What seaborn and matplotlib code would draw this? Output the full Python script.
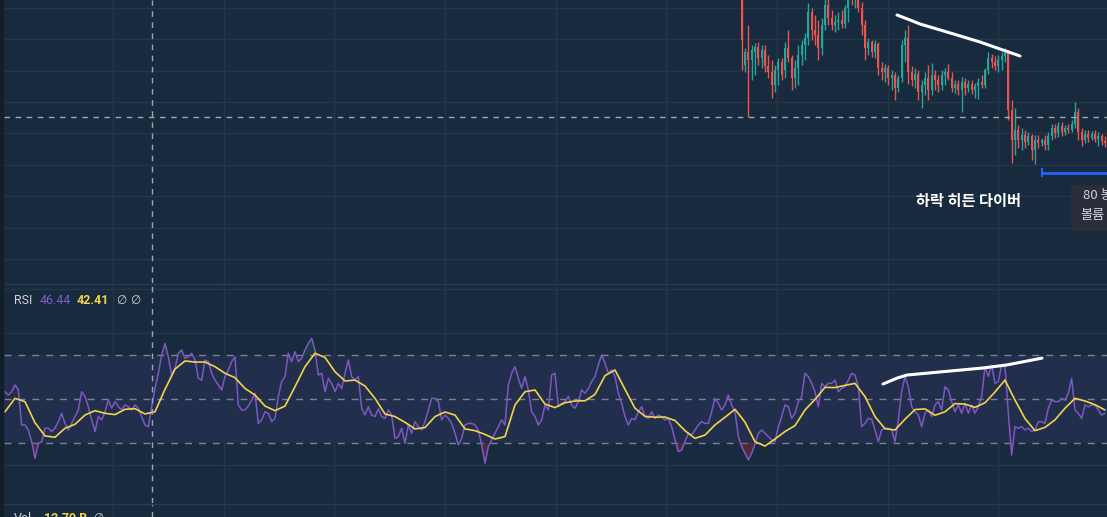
import numpy as np
import pandas as pd
import matplotlib
matplotlib.use('Agg')
import matplotlib.pyplot as plt
import seaborn as sns
from matplotlib.patches import FancyBboxPatch, Rectangle

# RSI (14), one value per bar, bar 0 = left edge of the chart
rsi_part1 = [53.3, 51.8, 53.3, 56.4, 54.1, 38.2, 38.2, 35.9, 30.6, 23.0,
             29.8, 30.6, 36.7, 36.7, 35.2, 36.7, 39.7, 43.5, 38.9, 35.9,
             38.9, 42.0, 45.0, 53.3, 51.1, 46.5, 40.5, 35.2, 42.0, 40.5,
             44.2, 49.5, 45.8, 48.8, 46.5, 45.0, 47.3, 46.5, 45.0, 47.3,
             45.8, 42.0, 38.2, 37.4, 46.5, 54.8, 61.7, 70.0, 75.3, 69.2,
             60.9, 63.9, 70.8, 72.3, 68.5, 69.2, 70.8, 67.7, 59.4, 58.6,
             67.7, 67.0, 61.7, 58.6, 56.4, 54.1, 60.2, 63.2, 67.0, 69.2,
             47.3, 45.0, 45.0, 46.8, 49.5, 52.6, 38.9, 40.5, 44.2, 43.5,
             39.7, 41.2, 51.1, 57.9, 60.2, 70.8, 67.0, 71.5, 67.0, 68.5,
             72.3, 75.3, 77.6, 72.3, 60.9, 61.7, 53.3, 59.4, 57.1, 53.3,
             57.1, 54.8, 61.7, 67.7, 60.2, 58.6, 60.2, 45.8, 42.7, 46.5]
rsi_part2 = [42.7, 42.0, 45.5, 42.0, 41.2, 45.0, 42.7, 32.1, 32.9, 36.7,
             29.8, 38.2, 34.4, 39.7, 37.4, 35.9, 39.7, 45.0, 50.3, 50.3,
             48.8, 40.5, 42.7, 41.2, 38.9, 34.4, 29.1, 32.1, 38.2, 38.9,
             38.9, 38.2, 35.9, 29.1, 20.8, 28.3, 31.4, 34.4, 37.4, 40.5,
             38.2, 56.4, 61.7, 64.7, 59.4, 54.8, 60.2, 54.1, 44.2, 42.0,
             38.2, 40.5, 47.3, 45.0, 60.9, 61.7, 46.5, 48.0, 48.8, 51.1,
             47.3, 45.8, 48.8, 54.1, 52.6, 54.8, 57.9, 60.2, 65.5, 70.0,
             66.2, 61.7, 63.2, 60.2, 52.6, 48.0, 42.0, 38.2, 41.2, 40.5,
             44.2, 46.5, 42.0, 41.2, 44.2, 41.2, 42.7, 42.0, 40.5, 41.2,
             37.4, 31.4, 26.1, 26.8, 30.6, 34.4, 33.6, 35.9, 38.2, 39.7,
             38.9, 38.9, 44.2, 50.3, 48.0, 45.0, 47.3, 51.8, 47.3, 44.2,
             32.9]
rsi_part3 = [28.3, 25.3, 22.3, 25.3, 29.5, 34.4, 35.9, 34.4, 32.9, 31.4,
             30.6, 37.4, 42.0, 47.3, 46.5, 41.2, 43.5, 48.8, 51.1, 61.7,
             60.2, 57.1, 53.3, 46.5, 57.1, 55.6, 57.1, 57.1, 58.6, 53.3,
             54.8, 55.6, 58.6, 61.7, 60.9, 55.6, 37.4, 38.9, 41.2, 40.8,
             35.9, 30.6, 35.9, 36.7, 36.7, 35.9, 30.6, 40.5, 53.3, 60.2,
             55.6, 46.5, 44.2, 42.7, 37.4, 43.5, 45.0, 42.0, 47.3, 48.8,
             45.0, 55.6, 54.1, 48.8, 44.2, 47.3, 43.5, 48.0, 43.5, 47.3,
             43.5, 46.5, 51.1, 64.7, 60.2, 65.5, 57.1, 57.9, 65.5, 64.7,
             43.5, 24.5, 37.4, 36.7, 37.4, 35.9, 36.7, 35.2, 35.9, 39.7,
             39.7, 38.9, 45.8, 49.5, 48.8, 48.8, 50.3, 49.5, 52.6, 59.4,
             45.0, 43.5, 41.2, 47.3, 46.5, 47.3, 47.3, 45.0, 42.7, 43.5]
rsi = rsi_part1 + rsi_part2 + rsi_part3

# RSI-based moving average, read every 3rd bar
ma_step = 3
rsi_ma = [44.2, 50.3, 48.8, 39.2, 33.2, 32.6, 36.7, 38.5, 42.7, 44.7,
          43.5, 42.9, 45.3, 45.6, 43.2, 44.2, 54.4, 63.6, 67.3, 66.8,
          66.8, 64.7, 61.7, 59.7, 54.8, 51.8, 46.8, 44.7, 46.8, 55.6,
          64.7, 70.8, 68.9, 62.4, 58.2, 58.6, 55.9,
          50.3, 43.2, 42.0, 39.4, 36.4, 37.0, 42.0, 44.1, 42.7, 36.4,
          35.6, 33.9, 31.8, 32.9, 47.3, 53.3, 54.1, 47.7, 46.1, 48.3,
          49.1, 49.2, 52.1, 60.6, 63.2, 54.4, 45.8, 42.1, 41.7, 41.8,
          40.2, 35.6, 32.1, 33.6, 38.2, 41.7, 45.3,
          39.5, 30.6, 28.6, 31.8, 35.2, 37.9, 45.0, 49.8, 55.3, 55.2,
          56.2, 57.1, 51.1, 42.0, 36.5, 35.9, 40.8, 45.2, 45.5, 42.6,
          44.2, 47.9, 47.7, 46.2, 48.3, 53.2, 58.6, 49.5, 41.1, 35.6,
          37.1, 40.5, 45.8, 50.3, 49.1, 47.4, 45.0]

# candles: only bars from 221 on reach into the visible price range
candle_start = 221
opens = [70000, 69350, 69480, 69400, 69480, 69530, 69420, 69500, 69340, 69280,
         69150, 69300, 69380, 69300, 69520, 69420, 69220, 69320, 69450, 69550,
         69620, 69880, 69700, 69650, 69520, 69750, 69950, 69820, 69750, 69780,
         69800, 69760, 69920, 70050, 70000, 70030, 69920, 69750, 69520, 69580,
         69480, 69560, 69320, 69280, 69320, 69220, 69250, 69120, 69220, 69550,
         69620, 69280, 69200, 69260, 69080, 69150, 69220, 69100, 69250, 69200,
         69150, 69250, 69280, 69220, 69120, 69160, 69100, 69180, 69120, 69160,
         69100, 69140, 69180, 69150, 69300, 69420, 69380, 69340, 69400, 69440,
         69470, 68900, 68600, 68700, 68600, 68650, 68580, 68640, 68500, 68600,
         68570, 68600, 68550, 68640, 68720, 68670, 68740, 68680, 68720, 68700,
         68760, 68880, 68680, 68600, 68660, 68620, 68660, 68610, 68640, 68590]
highs = [70200, 69520, 69750, 69550, 69570, 69580, 69550, 69550, 69450, 69400,
         69350, 69420, 69420, 69580, 69700, 69450, 69400, 69550, 69600, 69670,
         69970, 69920, 69850, 69800, 69820, 70100, 70050, 69900, 69850, 69880,
         69900, 69950, 70150, 70200, 70100, 70120, 69980, 69800, 69620, 69600,
         69600, 69580, 69380, 69360, 69350, 69300, 69280, 69250, 69600, 69700,
         69750, 69340, 69320, 69300, 69200, 69280, 69350, 69370, 69300, 69250,
         69300, 69320, 69360, 69280, 69200, 69200, 69230, 69220, 69200, 69200,
         69170, 69220, 69250, 69320, 69480, 69460, 69440, 69450, 69480, 69520,
         69500, 69000, 68920, 68750, 68720, 68700, 68680, 68660, 68650, 68650,
         68620, 68650, 68680, 68760, 68760, 68780, 68780, 68750, 68760, 68800,
         68980, 68920, 68720, 68700, 68700, 68690, 68700, 68680, 68660, 68640]
lows = [69300, 69280, 68830, 69200, 69250, 69350, 69320, 69280, 69220, 69020,
        69080, 69150, 69200, 69220, 69380, 69100, 69120, 69150, 69350, 69400,
        69550, 69600, 69550, 69400, 69450, 69700, 69750, 69700, 69680, 69700,
        69720, 69720, 69780, 69950, 69920, 69880, 69650, 69400, 69450, 69430,
        69420, 69250, 69200, 69180, 69150, 69100, 69000, 69080, 69180, 69380,
        69160, 69140, 69120, 69000, 68920, 69050, 69000, 69050, 69100, 69080,
        69100, 69150, 69200, 69080, 69070, 69050, 68880, 69050, 69080, 69060,
        69020, 69010, 69120, 69120, 69260, 69320, 69300, 69280, 69300, 69380,
        68800, 68370, 68450, 68520, 68500, 68520, 68550, 68400, 68360, 68520,
        68540, 68500, 68500, 68600, 68620, 68630, 68640, 68650, 68670, 68680,
        68720, 68600, 68540, 68570, 68580, 68600, 68580, 68540, 68550, 68530]
closes = [69600, 69480, 69400, 69500, 69530, 69420, 69500, 69340, 69280, 69150,
          69300, 69380, 69250, 69520, 69420, 69220, 69320, 69450, 69550, 69620,
          69880, 69700, 69650, 69520, 69750, 69950, 69820, 69750, 69780, 69800,
          69760, 69920, 70050, 70000, 70030, 69920, 69750, 69520, 69580, 69480,
          69560, 69320, 69280, 69320, 69220, 69250, 69120, 69220, 69550, 69620,
          69280, 69200, 69260, 69080, 69150, 69220, 69100, 69250, 69200, 69150,
          69250, 69280, 69220, 69120, 69160, 69100, 69180, 69120, 69160, 69100,
          69140, 69180, 69150, 69300, 69420, 69380, 69340, 69400, 69440, 69470,
          68900, 68600, 68700, 68600, 68650, 68580, 68640, 68500, 68600, 68570,
          68600, 68550, 68640, 68720, 68670, 68740, 68680, 68720, 68700, 68760,
          68880, 68680, 68600, 68660, 68620, 68660, 68610, 68640, 68590, 68570]

# hand-drawn divergence lines (bar, value)
price_trend_bars = [267.6, 271.5, 274.5, 282.6, 292.5, 304.5]
price_trend_vals = [69850, 69800, 69760, 69680, 69580, 69440]
rsi_trend_bars = [263.4, 267.6, 270.6, 280.5, 293.4, 300.6, 311.1]
rsi_trend_vals = [56.8, 59.5, 60.9, 62.3, 64.1, 65.5, 68.6]

# measuring range (blue) and crosshair
range_start_bar = 311.1
range_price = 68275
cross_bar = 44.1
cross_price = 68830

BG = '#182a3d'
GRID = '#243648'
RED = '#ef5350'
TEAL = '#26a69a'
PURPLE = '#7e57c2'
YELLOW = '#f2d34c'

sns.set_theme(style='dark')
plt.rcParams['font.family'] = ['Noto Sans CJK KR', 'DejaVu Sans']

W, H = 1107, 517
fig = plt.figure(figsize=(W / 100, H / 100), dpi=100)
fig.patch.set_facecolor(BG)


def pane(top, bottom):
    ax = fig.add_axes([4 / W, 1 - bottom / H, 1 - 4 / W, (bottom - top) / H])
    ax.set_facecolor(BG)
    ax.set_xlim(-0.3, 330.6)
    ax.set_xticks([])
    ax.set_yticks([])
    for s in ax.spines.values():
        s.set_visible(False)
    for gx in np.arange(32.4, 331, 33.2):
        ax.axvline(gx, color=GRID, lw=1, zorder=0)
    ax.axvline(cross_bar, color='#a3a6af', lw=1, dashes=(4, 4), zorder=5)
    return ax


ax_p = pane(0, 283)
ax_r = pane(284, 503)
ax_v = pane(504, 517)
fig.patches.append(Rectangle((0, 0), 3 / W, 1, transform=fig.transFigure,
                             color='#131e2b', zorder=10))
for yb in [283.5, 503.5]:
    fig.add_artist(plt.Line2D([4 / W, 1], [1 - yb / H] * 2, color='#2a3b4d', lw=1))

# price pane
ax_p.set_ylim(67170, 70000)
for gy in np.arange(69922, 67170, -314):
    ax_p.axhline(gy, color=GRID, lw=1, zorder=0)
ax_p.axhline(cross_price, color='#a3a6af', lw=1, dashes=(4, 4), zorder=5)

cdf = pd.DataFrame({'bar': np.arange(candle_start, candle_start + len(opens)),
                    'open': opens, 'high': highs, 'low': lows, 'close': closes})
ccol = np.where(cdf['close'] >= cdf['open'], TEAL, RED)
ax_p.vlines(cdf['bar'], cdf['low'], cdf['high'], colors=ccol, lw=1, zorder=3)
body = (cdf['close'] - cdf['open']).abs().clip(lower=10)
ax_p.bar(cdf['bar'], body, bottom=np.minimum(cdf['open'], cdf['close']),
         width=0.6, color=ccol, zorder=3, linewidth=0)

ax_p.plot(price_trend_bars, price_trend_vals, color='white', lw=2.2,
          solid_capstyle='round', solid_joinstyle='round', zorder=6)
ax_p.hlines(range_price, range_start_bar, 331, color='#2962ff', lw=2, zorder=6)
ax_p.vlines(range_start_bar, range_price - 45, range_price + 45, color='#2962ff', lw=1.5, zorder=6)

# RSI pane
ax_r.set_ylim(2.7, 102.3)
for gy in [20, 40, 60, 80, 100]:
    ax_r.axhline(gy, color=GRID, lw=1, zorder=0)
ax_r.axhspan(30, 70, color='#212f4d', zorder=0.5, lw=0)
for lv in [70, 50, 30]:
    ax_r.axhline(lv, color='#7d8191', lw=1, dashes=(5, 5), zorder=1)

rdf = pd.DataFrame({'bar': np.arange(len(rsi)), 'rsi': rsi})
mdf = pd.DataFrame({'bar': np.arange(0, ma_step * len(rsi_ma), ma_step), 'ma': rsi_ma})
r = rdf['rsi'].to_numpy()
ax_r.fill_between(rdf['bar'], r, 30, where=r < 30, interpolate=True,
                  color='#b2283a', alpha=0.35, lw=0, zorder=1.5)
ax_r.fill_between(rdf['bar'], r, 70, where=r > 70, interpolate=True,
                  color='#2fa36b', alpha=0.15, lw=0, zorder=1.5)
sns.lineplot(data=rdf, x='bar', y='rsi', ax=ax_r, color=PURPLE, lw=1.1, zorder=3)
sns.lineplot(data=mdf, x='bar', y='ma', ax=ax_r, color=YELLOW, lw=1.2, zorder=4)
ax_r.lines[-1].set_solid_joinstyle('round')
ax_r.plot(rsi_trend_bars, rsi_trend_vals, color='white', lw=2.2,
          solid_capstyle='round', solid_joinstyle='round', zorder=6)
ax_r.set_xlabel('')
ax_r.set_ylabel('')
ax_r.set_xlim(-0.3, 330.6)


def ftxt(x, y, s, **kw):
    fig.text(x / W, 1 - y / H, s, va='center', **kw)


LAB = ['Roboto', 'DejaVu Sans']
ftxt(14, 300, 'RSI', color='#d1d4dc', fontsize=9, family=LAB)
ftxt(40, 300, '46.44', color='#7e5fc8', fontsize=9, family=LAB)
ftxt(77, 300, '42.41', color=YELLOW, fontsize=9, fontweight='bold', family=LAB)
ftxt(116, 300, '\u2205', color='#d1d4dc', fontsize=8.5, family=['DejaVu Sans'])
ftxt(130, 300, '\u2205', color='#d1d4dc', fontsize=8.5, family=['DejaVu Sans'])

ftxt(14, 519, 'Vol', color='#d1d4dc', fontsize=9, family=LAB)
ftxt(44, 519, '12.79 B', color=YELLOW, fontsize=9, fontweight='bold', family=LAB)
ftxt(93, 519, '\u2205', color='#d1d4dc', fontsize=8.5, family=['DejaVu Sans'])

ftxt(916, 201, '하락 히든 다이버', color='white', fontsize=11, fontweight='bold')

tip = FancyBboxPatch((10.71, 2.86), 0.6, 0.46, boxstyle='round,pad=0,rounding_size=0.04',
                     transform=fig.dpi_scale_trans, facecolor='#2a2e39', edgecolor='none', zorder=20)
fig.patches.append(tip)
ftxt(1083, 196, '80 봉', color='#d1d4dc', fontsize=9.5, zorder=21)
ftxt(1080, 216, '볼륨', color='#d1d4dc', fontsize=9.5, zorder=21)

fig.savefig('out.png', dpi=100, facecolor=BG)
